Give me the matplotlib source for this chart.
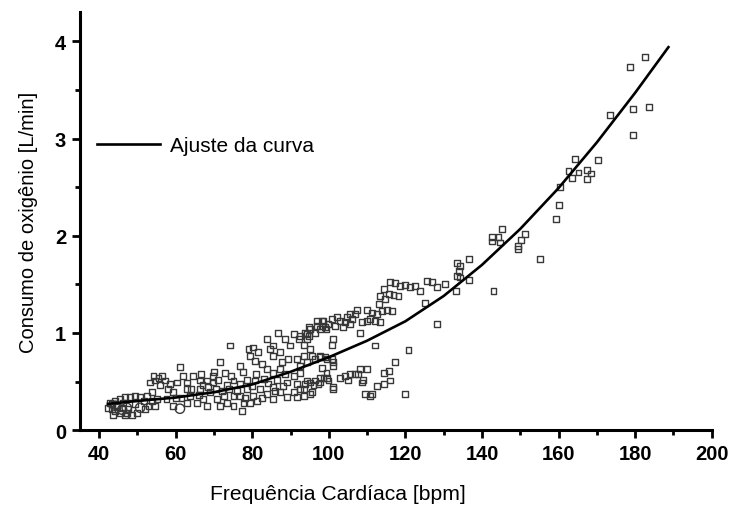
import matplotlib
matplotlib.use('Agg')
import matplotlib.pyplot as plt
from matplotlib.ticker import MultipleLocator

plt.rcParams['font.family'] = ['Liberation Sans', 'DejaVu Sans']

# fitted curve
fit_hr = [42.3, 50, 60, 70, 80, 90, 100, 110, 120, 130, 140, 150, 160, 170, 180, 188.7]
fit_vo2 = [0.27, 0.30, 0.335, 0.39, 0.47, 0.60, 0.75, 0.92, 1.12, 1.38, 1.70, 2.07, 2.49, 2.96, 3.47, 3.94]

# measured points (heart rate bpm, VO2 L/min)
rest_pts = [(42.8, 0.28), (43.3, 0.22), (43.7, 0.16), (44.6, 0.25), (45.5, 0.18), (46.3, 0.28),
            (46.8, 0.15), (47.6, 0.22), (48.5, 0.16), (49.4, 0.27), (49.8, 0.18), (51.6, 0.30),
            (52.0, 0.22), (52.9, 0.25), (53.7, 0.30), (54.6, 0.25), (49.4, 0.35), (48.1, 0.34),
            (45.5, 0.32), (44.2, 0.30), (46.8, 0.34), (50.7, 0.34), (42.4, 0.23), (43.3, 0.27),
            (44.2, 0.20), (45.9, 0.23), (47.2, 0.18), (53.3, 0.49), (53.7, 0.39), (55.0, 0.32),
            (52.4, 0.35), (54.2, 0.56), (54.6, 0.51), (55.5, 0.54)]

rest_circles = [(44.2, 0.25), (47.2, 0.23), (50.7, 0.23), (61.1, 0.22), (46.0, 0.21)]

moderate_pts = [(55.9, 0.46), (56.4, 0.56), (57.2, 0.51), (57.6, 0.32), (58.1, 0.42), (59.4, 0.39),
                (59.4, 0.25), (60.3, 0.49), (61.1, 0.65), (62.0, 0.56), (62.9, 0.49), (62.9, 0.28),
                (63.8, 0.35), (64.6, 0.56), (65.5, 0.28), (66.4, 0.42), (66.4, 0.51), (67.2, 0.32),
                (68.1, 0.51), (68.1, 0.25), (69.0, 0.39), (69.8, 0.49), (69.8, 0.56), (70.7, 0.32),
                (71.6, 0.70), (71.6, 0.25), (72.0, 0.40), (72.9, 0.59), (73.3, 0.28), (73.3, 0.46),
                (74.2, 0.87), (75.1, 0.35), (75.1, 0.51), (75.1, 0.25), (76.8, 0.66), (76.8, 0.47),
                (76.8, 0.35), (77.3, 0.20), (77.7, 0.28), (78.6, 0.52), (78.6, 0.42), (79.0, 0.83),
                (79.4, 0.76), (79.4, 0.28), (80.3, 0.85), (80.3, 0.35), (80.7, 0.71), (80.7, 0.51),
                (81.2, 0.30), (81.6, 0.80), (82.0, 0.42), (82.5, 0.68), (83.8, 0.94), (83.8, 0.63),
                (83.8, 0.37), (84.7, 0.83), (85.5, 0.87), (85.5, 0.76), (85.5, 0.59), (85.5, 0.44),
                (85.5, 0.32), (86.8, 1.00), (87.3, 0.80), (87.3, 0.63), (87.3, 0.39), (87.7, 0.70),
                (88.6, 0.94), (89.0, 0.49), (89.0, 0.34), (89.4, 0.73), (89.9, 0.87), (90.8, 0.99),
                (90.8, 0.56), (90.8, 0.39), (91.6, 0.73), (91.6, 0.47), (91.6, 0.34),
                (61.5, 0.33), (64.0, 0.42), (66.0, 0.36), (68.5, 0.44), (70.5, 0.42), (72.5, 0.35),
                (74.0, 0.42), (76.0, 0.40), (78.0, 0.33), (80.0, 0.45), (82.5, 0.33), (84.0, 0.48),
                (86.5, 0.52), (88.0, 0.45), (58.5, 0.47), (60.0, 0.33), (63.0, 0.42), (67.0, 0.46),
                (71.0, 0.52), (74.5, 0.56), (77.5, 0.60), (81.0, 0.58), (83.0, 0.53), (86.0, 0.40),
                (88.5, 0.58), (70.0, 0.60), (66.5, 0.58)]

upper_band = [(92.1, 0.94), (94.2, 0.99), (94.7, 1.06), (96.9, 1.12), (98.2, 1.12), (99.0, 1.06),
              (102.1, 1.16), (116.0, 1.52), (117.3, 1.51), (118.6, 1.48), (119.9, 1.49),
              (121.2, 1.47), (122.5, 1.48), (123.8, 1.43), (125.6, 1.53), (126.9, 1.52),
              (128.2, 1.47), (130.4, 1.50), (114.3, 1.45), (115.6, 1.40), (116.9, 1.39),
              (118.2, 1.38), (113.4, 1.38), (114.7, 1.35), (113.0, 1.30), (113.8, 1.23),
              (115.1, 1.24), (116.4, 1.23), (112.5, 1.19), (111.2, 1.21), (109.9, 1.24),
              (110.8, 1.14), (112.1, 1.12), (113.4, 1.11), (109.9, 1.12), (108.6, 1.11),
              (107.3, 1.24), (106.9, 1.19), (105.5, 1.19), (106.0, 1.14), (104.7, 1.16),
              (104.2, 1.11), (105.5, 1.09), (103.8, 1.06), (102.9, 1.12), (101.6, 1.07),
              (100.8, 1.14), (99.9, 1.09), (99.4, 1.04), (98.6, 1.12), (98.1, 1.07), (97.7, 1.04),
              (96.8, 1.07), (96.4, 1.00), (95.1, 1.04), (94.7, 0.97), (93.8, 1.00), (94.2, 0.94),
              (93.4, 0.88), (92.5, 0.97), (95.1, 0.83), (125.1, 1.31), (128.2, 1.09),
              (120.8, 0.82), (112.1, 0.87), (108.2, 1.00), (101.2, 0.94), (100.8, 0.88)]

lower_band = [(93.4, 0.76), (95.5, 0.76), (97.7, 0.75), (99.5, 0.73), (101.2, 0.70), (94.2, 0.51),
              (96.0, 0.46), (97.7, 0.49), (99.5, 0.54), (101.2, 0.44), (93.4, 0.42), (95.1, 0.37),
              (92.5, 0.59), (92.5, 0.66), (94.2, 0.70), (96.4, 0.73), (97.7, 0.76), (99.0, 0.75),
              (100.8, 0.73), (101.2, 0.66), (98.1, 0.64), (99.4, 0.59), (97.7, 0.54), (96.4, 0.51),
              (95.1, 0.49), (93.8, 0.47), (92.5, 0.42), (93.4, 0.35), (95.5, 0.39), (97.3, 0.47),
              (98.6, 0.54), (99.9, 0.51), (101.2, 0.42), (102.9, 0.54), (104.2, 0.56),
              (105.5, 0.58), (105.1, 0.51), (106.9, 0.58), (108.2, 0.63), (109.9, 0.63),
              (109.0, 0.52), (107.7, 0.58), (108.6, 0.49), (109.5, 0.37), (110.8, 0.35),
              (111.2, 0.37), (112.5, 0.45), (114.3, 0.47), (114.3, 0.59), (115.6, 0.61),
              (116.0, 0.51), (117.3, 0.70), (119.9, 0.37)]

high_pts = [(133.4, 1.72), (136.5, 1.76), (134.3, 1.69), (133.9, 1.64), (133.4, 1.59), (134.3, 1.57),
            (136.5, 1.54), (133.3, 1.43), (143.0, 1.43), (155.2, 1.76), (149.5, 1.86),
            (182.6, 3.84), (178.7, 3.74), (179.4, 3.30), (183.7, 3.32), (179.4, 3.04), (173.5, 3.24),
            (164.3, 2.79), (170.3, 2.78), (162.6, 2.67), (165.2, 2.65), (167.4, 2.68), (168.4, 2.64),
            (163.5, 2.59), (167.4, 2.58), (160.4, 2.50), (160.2, 2.32), (159.4, 2.17), (145.2, 2.07),
            (142.6, 1.99), (144.3, 1.99), (142.6, 1.94), (144.6, 1.93), (151.3, 2.02), (150.2, 1.96),
            (149.4, 1.89)]

squares = rest_pts + moderate_pts + upper_band + lower_band + high_pts
sq_hr = [p[0] for p in squares]
sq_vo2 = [p[1] for p in squares]
ci_hr = [p[0] for p in rest_circles]
ci_vo2 = [p[1] for p in rest_circles]

fig = plt.figure(figsize=(7.34, 5.06), dpi=100)
ax = fig.add_axes([0.109, 0.148, 0.8606, 0.826])

ax.scatter(sq_hr, sq_vo2, marker='s', s=18, facecolors='none', edgecolors='#383838', linewidths=1.0)
ax.scatter(ci_hr, ci_vo2, marker='o', s=45, facecolors='none', edgecolors='#383838', linewidths=1.0)
ax.plot(fit_hr, fit_vo2, color='black', lw=1.9, label='Ajuste da curva')

ax.set_xlim(35, 200)
ax.set_ylim(0, 4.3)
ax.spines['top'].set_visible(False)
ax.spines['right'].set_visible(False)
ax.spines['left'].set_linewidth(2.2)
ax.spines['bottom'].set_linewidth(2.2)

ax.xaxis.set_major_locator(MultipleLocator(20))
ax.xaxis.set_minor_locator(MultipleLocator(10))
ax.yaxis.set_major_locator(MultipleLocator(1))
ax.yaxis.set_minor_locator(MultipleLocator(0.5))
ax.tick_params(which='major', length=6, width=2, labelsize=14.5, pad=4)
ax.tick_params(which='minor', length=3.5, width=2)
for lbl in ax.get_xticklabels() + ax.get_yticklabels():
    lbl.set_fontweight('bold')

ax.set_xlabel('Frequência Cardíaca [bpm]', fontsize=15.2)
ax.set_ylabel('Consumo de oxigênio [L/min]', fontsize=14.5)
ax.xaxis.set_label_coords(0.409, -0.13)
ax.yaxis.set_label_coords(-0.066, 0.5)

ax.legend(loc='center left', bbox_to_anchor=(0.027, 0.68), frameon=False, fontsize=15,
          handlelength=3.0, handletextpad=0.5, borderpad=0, borderaxespad=0)

fig.savefig('out.png', dpi=100)
